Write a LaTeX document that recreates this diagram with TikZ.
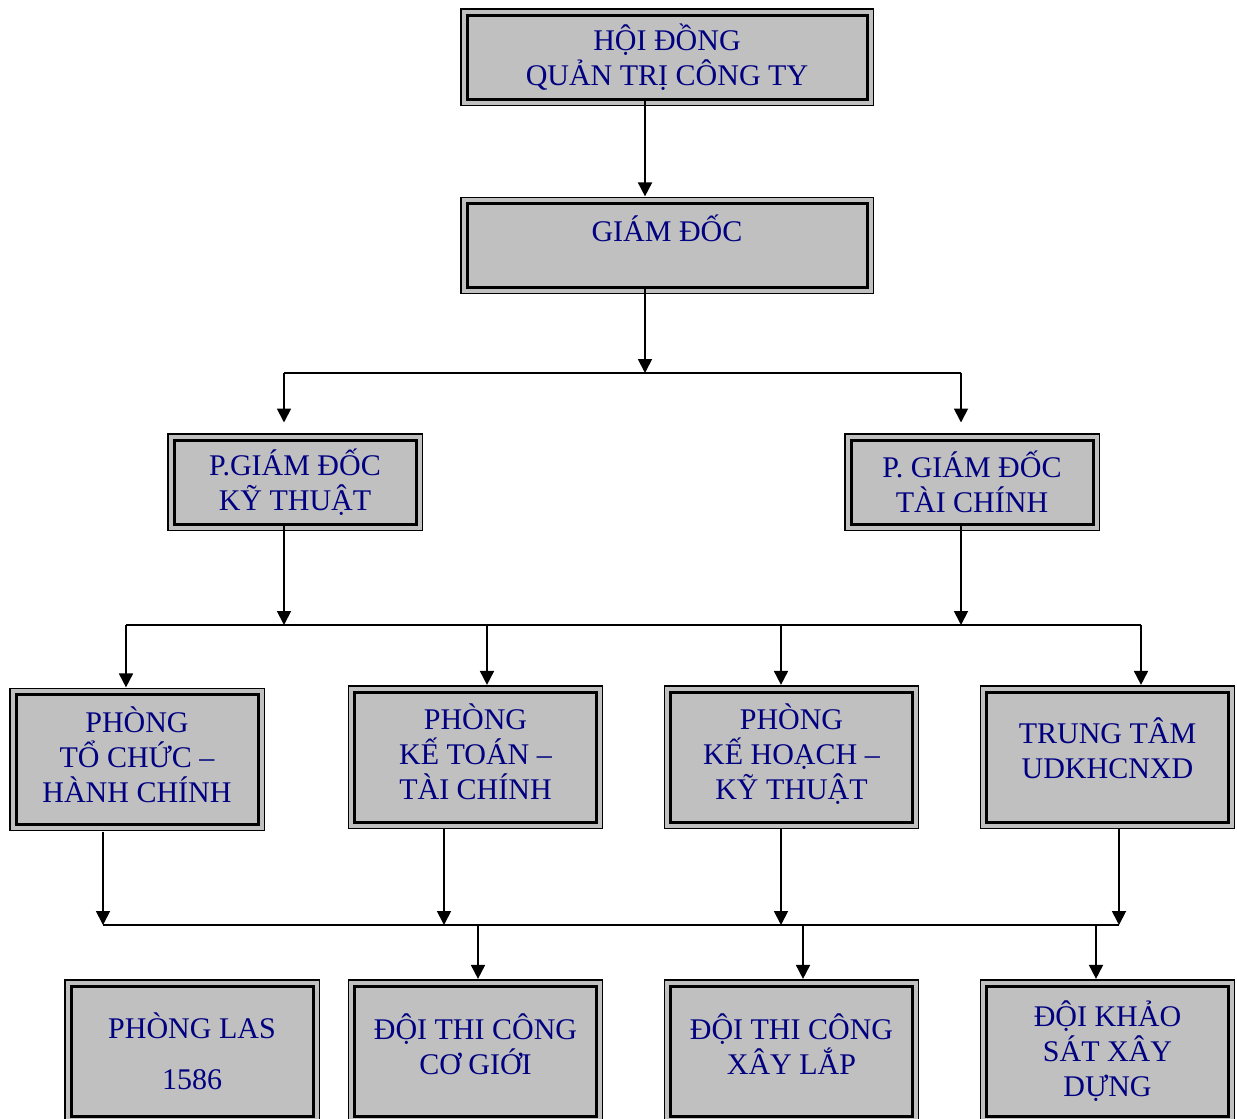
\documentclass[tikz,border=0pt]{standalone}
\usepackage{fontspec}
\setmainfont{Liberation Serif}
\usetikzlibrary{arrows.meta,backgrounds}
\definecolor{navy}{HTML}{000080}
\definecolor{boxgray}{HTML}{C0C0C0}

\begin{document}
\begin{tikzpicture}[
    x=0.5pt, y=-0.5pt,
    unit/.style={rectangle, draw, line width=1.5pt, fill=boxgray, text=navy,
        align=center, font=\fontsize{15}{17.5}\selectfont, inner sep=0pt},
    wide/.style={unit, minimum width=200pt, minimum height=42pt},
    mid/.style={unit, minimum width=121pt, minimum height=42pt},
    dept/.style={unit, minimum width=121pt, minimum height=65pt},
    arrow/.style={-{Triangle[length=7pt,width=7pt]}, line width=0.9pt},
    bus/.style={line width=0.9pt}
]
    \useasboundingbox (0,0) rectangle (1237,1119);
    \clip (0,0) rectangle (1237,1119);

    \node[wide] (hdqt) at (667,57) {HỘI ĐỒNG\\QUẢN TRỊ CÔNG TY\\[-15.5pt]};
    \node[wide] (gd) at (667,245.5) {GIÁM ĐỐC\\\mbox{}};

    \node[mid] (pgdkt) at (295,482) {P.GIÁM ĐỐC\\KỸ THUẬT};
    \node[mid] (pgdtc) at (972,482) {P. GIÁM ĐỐC\\TÀI CHÍNH};

    \node[dept] (tchc) at (137,759.5) {PHÒNG\\TỔ CHỨC –\\HÀNH CHÍNH\\[-12.5pt]};
    \node[dept] (ktoan) at (475.5,757) {PHÒNG\\KẾ TOÁN –\\TÀI CHÍNH\\[-12.5pt]};
    \node[dept] (khkt) at (791.5,757) {PHÒNG\\KẾ HOẠCH –\\KỸ THUẬT\\[-12.5pt]};
    \node[dept] (ttam) at (1107.5,757) {TRUNG TÂM\\UDKHCNXD\\[-8.5pt]};

    \node[dept] (las) at (192,1051) {PHÒNG LAS\\[8pt]1586};
    \node[dept] (cgioi) at (475.5,1051) {ĐỘI THI CÔNG\\CƠ GIỚI\\[-11pt]};
    \node[dept] (xlap) at (791.5,1051) {ĐỘI THI CÔNG\\XÂY LẮP\\[-11pt]};
    \node[dept] (ksat) at (1107.5,1051) {ĐỘI KHẢO\\SÁT XÂY\\DỰNG};

    % outer thin frames
    \begin{scope}[on background layer]
        \foreach \n in {hdqt,gd,pgdkt,pgdtc,tchc,ktoan,khkt,ttam,las,cgioi,xlap,ksat}
            \draw[line width=0.6pt, fill=boxgray] ([shift={(-2.3pt,2.3pt)}]\n.north west)
                rectangle ([shift={(2.3pt,-2.3pt)}]\n.south east);
    \end{scope}

    % bus lines
    \coordinate (top) at (645,373);
    \coordinate (topl) at (284,373);
    \coordinate (topr) at (961,373);
    \coordinate (midl) at (126,625);
    \coordinate (midr) at (1141,625);
    \coordinate (lowl) at (103,925);
    \coordinate (lowr) at (1119,925);

    \draw[arrow] (hdqt.south -| top) -- ([yshift=2.8pt]gd.north -| top);
    \draw[arrow] (gd.south -| top) -- (top);
    \draw[bus] (topl) -- (topr);
    \draw[arrow] (topl) -- ([yshift=8pt]pgdkt.north -| topl);
    \draw[arrow] (topr) -- ([yshift=8pt]pgdtc.north -| topr);

    \draw[arrow] (pgdkt.south -| topl) -- (topl |- midl);
    \draw[arrow] (pgdtc.south -| topr) -- (topr |- midl);
    \draw[bus] (midl) -- (midr);
    \draw[arrow] (midl) -- ([yshift=2.8pt]tchc.north -| midl);
    \draw[arrow] (487,625) -- ([yshift=2.8pt]ktoan.north -| 487,0);
    \draw[arrow] (781,625) -- ([yshift=2.8pt]khkt.north -| 781,0);
    \draw[arrow] (midr) -- ([yshift=2.8pt]ttam.north -| midr);

    \draw[arrow] ([yshift=-2.8pt]tchc.south -| lowl) -- (lowl);
    \draw[arrow] ([yshift=-2.8pt]ktoan.south -| 444,0) -- (444,925);
    \draw[arrow] ([yshift=-2.8pt]khkt.south -| 781,0) -- (781,925);
    \draw[arrow] ([yshift=-2.8pt]ttam.south -| lowr) -- (lowr);
    \draw[bus] (lowl) -- (lowr);
    \draw[arrow] (478,925) -- ([yshift=2.8pt]cgioi.north -| 478,0);
    \draw[arrow] (803,925) -- ([yshift=2.8pt]xlap.north -| 803,0);
    \draw[arrow] (1096,925) -- ([yshift=2.8pt]ksat.north -| 1096,0);
\end{tikzpicture}
\end{document}
